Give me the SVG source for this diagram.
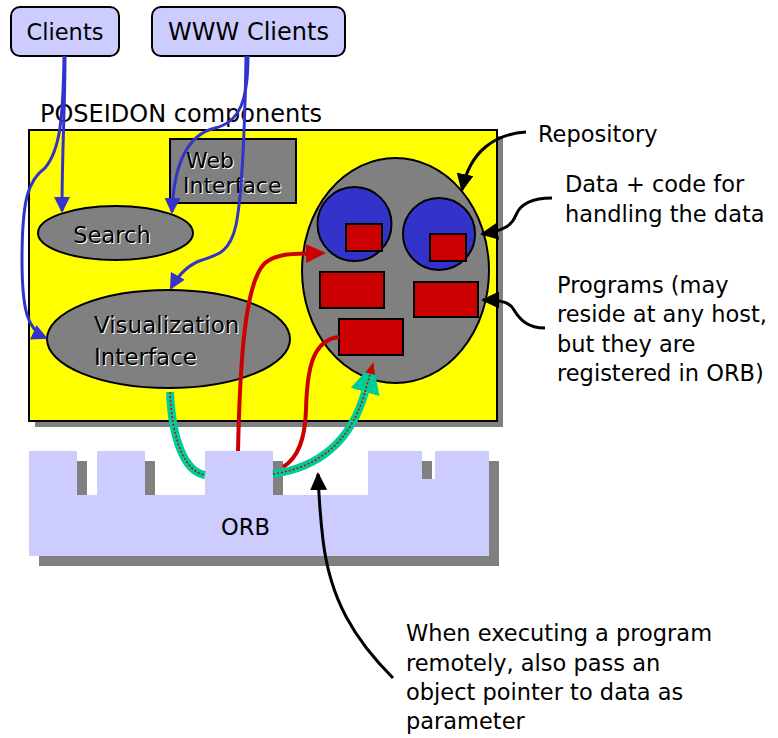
<svg xmlns="http://www.w3.org/2000/svg" width="778" height="738" viewBox="0 0 778 738">
  <style>
    .t{font-family:"DejaVu Sans",sans-serif;font-size:22.5px;fill:#000}
    .sh{fill:#fff}
    .client{fill:#CCCCFF;stroke:#000;stroke-width:2}
    .gray{fill:#808080;stroke:#000;stroke-width:2}
    .prog{fill:#CC0000;stroke:#000;stroke-width:2}
    .data{fill:#3333CC;stroke:#000;stroke-width:2}
    .shadow{fill:#808080}
    .cblue{fill:none;stroke:#3333CC;stroke-width:3;marker-end:url(#ahBlue)}
    .cred{fill:none;stroke:#CC0000;stroke-width:4}
    .cblack{fill:none;stroke:#000;stroke-width:3;marker-end:url(#ahBlack)}
    .cteal{fill:none;stroke:#00CC99;stroke-width:8}
    .cdot{fill:none;stroke:#CC0000;stroke-width:1.5;stroke-dasharray:2 2}
  </style>
  <defs>
    <marker id="ahBlue" markerUnits="userSpaceOnUse" markerWidth="16" markerHeight="16" refX="14" refY="8" orient="auto">
      <path d="M0,0 L16,8 L0,16 z" fill="#3333CC"/>
    </marker>
    <marker id="ahBlack" markerUnits="userSpaceOnUse" markerWidth="18" markerHeight="17" refX="16" refY="8.5" orient="auto">
      <path d="M0,0 L18,8.5 L0,17 z" fill="#000"/>
    </marker>
    <marker id="ahRed" markerUnits="userSpaceOnUse" markerWidth="20" markerHeight="19" refX="2" refY="9.5" orient="auto">
      <path d="M0,0 L20,9.5 L0,19 z" fill="#CC0000"/>
    </marker>
    <marker id="ahTeal" markerUnits="userSpaceOnUse" markerWidth="32" markerHeight="30" refX="0" refY="15" orient="auto">
      <path d="M0,0 L30,15 L0,30 z" fill="#00CC99"/>
      <path d="M0,15 L20,15" stroke="#CC0000" stroke-width="1.5" stroke-dasharray="2 2"/>
      <path d="M19,10 L31,15 L19,20 z" fill="#CC0000"/>
    </marker>
  </defs>

  <!-- client boxes -->
  <g id="clients">
    <rect class="client" x="11" y="7" width="108" height="49" rx="9"/>
    <text class="t" x="65" y="40" text-anchor="middle">Clients</text>
  </g>
  <g id="www-clients">
    <rect class="client" x="152" y="7" width="193" height="49" rx="9"/>
    <text class="t" x="248.5" y="40" text-anchor="middle" style="font-size:24px">WWW Clients</text>
  </g>

  <!-- POSEIDON component area -->
  <g id="poseidon">
    <text class="t" x="40" y="122" style="font-size:24px">POSEIDON components</text>
    <rect class="shadow" x="35" y="136" width="468" height="291"/>
    <rect x="29" y="130" width="468" height="291" fill="#FFFF00" stroke="#000" stroke-width="2"/>
  </g>

  <g id="web-interface">
    <rect class="gray" x="170" y="139" width="126" height="64"/>
    <text class="t sh" x="187" y="169" style="font-size:22px">Web</text>
    <text class="t sh" x="184" y="194" style="font-size:22px">Interface</text>
    <text class="t" x="186" y="168" style="font-size:22px">Web</text>
    <text class="t" x="183" y="193" style="font-size:22px">Interface</text>
  </g>

  <g id="search">
    <ellipse class="gray" cx="115.5" cy="233" rx="77.5" ry="27"/>
    <text class="t sh" x="113" y="244" text-anchor="middle">Search</text>
    <text class="t" x="112" y="243" text-anchor="middle">Search</text>
  </g>

  <g id="visualization">
    <ellipse class="gray" cx="168.5" cy="339" rx="121.5" ry="49"/>
    <text class="t sh" x="95" y="334" style="font-size:23px">Visualization</text>
    <text class="t sh" x="95" y="366" style="font-size:23px">Interface</text>
    <text class="t" x="94" y="333" style="font-size:23px">Visualization</text>
    <text class="t" x="94" y="365" style="font-size:23px">Interface</text>
  </g>

  <g id="repository">
    <ellipse class="gray" cx="395.5" cy="270.5" rx="93.5" ry="112.5"/>
    <circle class="data" cx="354.5" cy="224" r="37"/>
    <circle class="data" cx="439" cy="234" r="36"/>
    <rect class="prog" x="346" y="224" width="36" height="27"/>
    <rect class="prog" x="430" y="234" width="36" height="27"/>
    <rect class="prog" x="320" y="272" width="64" height="36"/>
    <rect class="prog" x="414" y="282" width="64" height="35"/>
    <rect class="prog" x="339" y="319" width="64" height="36"/>
  </g>

  <!-- object request broker -->
  <g id="orb">
    <polygon class="shadow" transform="translate(10,10)" points="29,451 77,451 77,495 97,495 97,451 145,451 145,495 205,495 205,451 273,451 273,495 368,495 368,451 422,451 422,479 435,479 435,451 489,451 489,556 29,556"/>
    <polygon fill="#CCCCFF" points="29,451 77,451 77,495 97,495 97,451 145,451 145,495 205,495 205,451 273,451 273,495 368,495 368,451 422,451 422,479 435,479 435,451 489,451 489,556 29,556"/>
    <text class="t" x="245.5" y="535" text-anchor="middle">ORB</text>
  </g>

  <!-- annotations -->
  <g id="note-repository">
    <text class="t" x="538" y="142">Repository</text>
  </g>
  <g id="note-data">
    <text class="t" x="565" y="192">Data + code for</text>
    <text class="t" x="565" y="222">handling the data</text>
  </g>
  <g id="note-programs">
    <text class="t" x="557" y="293">Programs (may</text>
    <text class="t" x="557" y="322">reside at any host,</text>
    <text class="t" x="557" y="352">but they are</text>
    <text class="t" x="557" y="381">registered in ORB)</text>
  </g>
  <g id="note-remote">
    <text class="t" x="406" y="641">When executing a program</text>
    <text class="t" x="406" y="671">remotely, also pass an</text>
    <text class="t" x="406" y="700">object pointer to data as</text>
    <text class="t" x="406" y="729">parameter</text>
  </g>

  <!-- connectors -->
  <g id="connectors">
    <path class="cblue" d="M65,56 C65,110 62,150 62,211"/>
    <path class="cblue" d="M64,56 C63,120 60,150 45,168 C28,180 22,200 22,260 C22,312 28,330 46,338"/>
    <path class="cblue" d="M248,56 C248,100 240,122 215,128 C190,134 174,160 172,212"/>
    <path class="cblue" d="M246,56 C245,120 243,190 236,225 C230,252 218,255 202,260 C190,264 180,272 171,288"/>

    <path class="cred" d="M238,451 C240,360 245,282 265,263 C276,254 290,254 308,253.5" marker-end="url(#ahRed)"/>
    <path class="cred" d="M283,467 C298,458 305,440 306,410 C307,370 312,340 339,337"/>

    <path class="cteal" d="M170,392 C172,440 185,472 205,475"/>
    <path class="cdot" d="M170,392 C172,440 185,472 205,475"/>
    <path class="cteal" d="M273,474 C315,468 350,445 365,392" marker-end="url(#ahTeal)"/>
    <path class="cdot" d="M273,474 C315,468 350,445 365,392"/>

    <path class="cblack" d="M526,132 C496,134 470,150 462,190"/>
    <path class="cblack" d="M552,198 C530,198 520,205 516,215 C512,225 506,230 482,234"/>
    <path class="cblack" d="M545,328 C528,328 520,320 514,310 C510,303 504,300 483,300"/>
    <path class="cblack" d="M393,678 C355,640 330,600 323,540 C320,515 319,500 318,474"/>
  </g>
</svg>
